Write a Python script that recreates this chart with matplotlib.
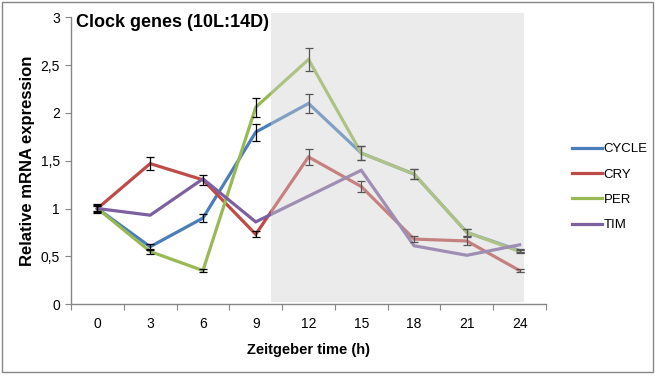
import matplotlib
matplotlib.use("Agg")
from matplotlib import pyplot as plt
from matplotlib.patches import Rectangle
import numpy as np

# Zeitgeber time categories
zt_labels = ["0", "3", "6", "9", "12", "15", "18", "21", "24"]

cycle = [1.00, 0.60, 0.90, 1.80, 2.10, 1.58, 1.36, 0.75, 0.56]
cycle_err = [0.05, 0.03, 0.04, 0.09, 0.10, 0.07, 0.05, 0.04, 0.02]
cry = [1.00, 1.47, 1.30, 0.73, 1.54, 1.23, 0.68, 0.66, 0.35]
cry_err = [0.04, 0.07, 0.05, 0.03, 0.08, 0.06, 0.03, 0.04, 0.02]
per = [1.00, 0.55, 0.35, 2.06, 2.56, 1.58, 1.36, 0.75, 0.55]
per_err = [0.03, 0.03, 0.02, 0.10, 0.12, 0.07, 0.05, 0.04, 0.02]
tim = [1.00, 0.93, 1.31, 0.86, 1.13, 1.40, 0.61, 0.51, 0.62]

series = [
    ("CYCLE", cycle, cycle_err, "#4a7ebb"),
    ("CRY", cry, cry_err, "#be4b48"),
    ("PER", per, per_err, "#98b954"),
    ("TIM", tim, None, "#7d60a0"),
]

plt.rcParams["font.family"] = ["Liberation Sans", "DejaVu Sans"]

fig = plt.figure(figsize=(6.55, 3.77), dpi=100)
ax = fig.add_axes([0.1084, 0.1936, 0.7252, 0.7600])

x = np.arange(len(zt_labels))
handles = []
for name, vals, err, col in series:
    h, = ax.plot(x, vals, color=col, lw=2.3, label=name, zorder=3,
                 solid_joinstyle="miter")
    handles.append(h)
    if err is not None:
        ax.errorbar(x, vals, yerr=err, fmt="none", ecolor="black",
                    elinewidth=0.9, capsize=3, capthick=0.9, zorder=4)

# dark phase shading (drawn over the lines, like the original)
ax.add_patch(Rectangle((3.29, 0.02), 8.08 - 3.29, 3.05 - 0.02,
                       facecolor="#d0d0d0", alpha=0.41, edgecolor="none",
                       zorder=5, clip_on=False))

ax.set_xlim(-0.5, 8.5)
ax.set_ylim(0, 3)
ax.set_xticks(np.arange(-0.5, 9.0, 1.0))
ax.set_xticklabels([])
ax.set_xticks(x, minor=True)
ax.set_xticklabels(zt_labels, minor=True, fontsize=10)
ax.tick_params(axis="x", which="minor", length=0, pad=9)
ax.tick_params(axis="x", which="major", length=4, color="#868686")
ax.set_yticks([0, 0.5, 1, 1.5, 2, 2.5, 3])
ax.set_yticklabels(["0", "0,5", "1", "1,5", "2", "2,5", "3"], fontsize=10)
ax.tick_params(axis="y", length=4, color="#868686", pad=4)

for s in ["top", "right"]:
    ax.spines[s].set_visible(False)
for s in ["left", "bottom"]:
    ax.spines[s].set_color("#868686")
    ax.spines[s].set_linewidth(1)

ax.set_xlabel("Zeitgeber time (h)", fontsize=10.5, fontweight="bold", labelpad=9)
ax.set_ylabel("Relative mRNA expression", fontsize=12, fontweight="bold",
              labelpad=4)
ax.text(0.01, 0.983, "Clock genes (10L:14D)", transform=ax.transAxes,
        fontsize=13, fontweight="bold", va="center", ha="left", zorder=6)

fig.legend(handles=handles, loc="upper left", bbox_to_anchor=(0.865, 0.635),
           frameon=False, fontsize=9.5, handlelength=2.3, handletextpad=0.1,
           labelspacing=1.0, borderaxespad=0)

# outer chart border
fig.add_artist(Rectangle((0.003, 0.013), 0.994, 0.982, transform=fig.transFigure,
                         fill=False, edgecolor="#868686", lw=1))

fig.savefig("out.png", dpi=100)
